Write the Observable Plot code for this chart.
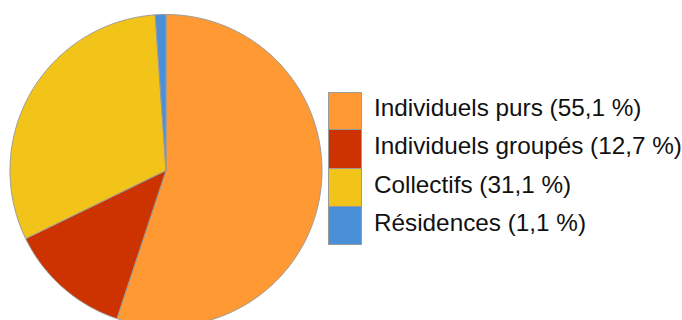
<!DOCTYPE html>
<html>
<head>
<meta charset="utf-8">
<script src="https://cdn.jsdelivr.net/npm/d3@7"></script>
<script src="https://cdn.jsdelivr.net/npm/@observablehq/plot@0.6"></script>
<style>
  html, body { margin: 0; padding: 0; background: #fff; }
  #wrap { position: relative; width: 682px; height: 320px; overflow: hidden; font-family: "Liberation Sans", Arial, sans-serif; }
  #legend { position: absolute; left: 328px; top: 92px; }
  .row { display: flex; align-items: center; height: 38.3px; }
  .sw { width: 34px; height: 38.3px; border: 1px solid #9a9a9a; border-top-width: 0; box-sizing: border-box; }
  .row:first-child .sw { border-top-width: 1px; }
  .lbl { margin-left: 12px; font-size: 24.3px; color: #111; white-space: nowrap; position: relative; top: -3px; }
</style>
</head>
<body>
<div id="wrap"><div id="legend"></div></div>
<script>
const categories = ["Individuels purs", "Individuels groupés", "Collectifs", "Résidences"];
const values = [55.1, 12.7, 31.1, 1.1];
const labels = ["55,1 %", "12,7 %", "31,1 %", "1,1 %"];
const colors = ["#FF9933", "#CC3300", "#F2C41A", "#4A90D9"];

// Build slice outlines (unit circle, clockwise from top) from the values
const total = d3.sum(values);
const pts = [];
let acc = 0;
categories.forEach((c, i) => {
  const a0 = acc / total * 2 * Math.PI;
  acc += values[i];
  const a1 = acc / total * 2 * Math.PI;
  const n = Math.max(2, Math.ceil((a1 - a0) / 0.01));
  pts.push({cat: c, x: 0, y: 0});
  for (let k = 0; k <= n; k++) {
    const a = a0 + (a1 - a0) * k / n;
    pts.push({cat: c, x: Math.sin(a), y: Math.cos(a)});
  }
  pts.push({cat: c, x: 0, y: 0});
});

const cx = 165.5, cy = 170, r = 156;
const chart = Plot.plot({
  width: 682,
  height: 320,
  margin: 0,
  x: {domain: [-1, 1], range: [cx - r, cx + r], axis: null},
  y: {domain: [-1, 1], range: [cy + r, cy - r], axis: null},
  color: {domain: categories, range: colors},
  marks: [
    Plot.line(pts, {x: "x", y: "y", z: "cat", fill: "cat", stroke: "#9a9a9a", strokeWidth: 1, curve: "linear"})
  ]
});
chart.style.position = "absolute";
chart.style.left = "0";
chart.style.top = "0";
document.getElementById("wrap").prepend(chart);

const legend = document.getElementById("legend");
categories.forEach((c, i) => {
  const row = document.createElement("div");
  row.className = "row";
  const sw = document.createElement("div");
  sw.className = "sw";
  sw.style.background = colors[i];
  const lb = document.createElement("div");
  lb.className = "lbl";
  lb.textContent = `${c} (${labels[i]})`;
  row.appendChild(sw);
  row.appendChild(lb);
  legend.appendChild(row);
});
</script>
</body>
</html>
